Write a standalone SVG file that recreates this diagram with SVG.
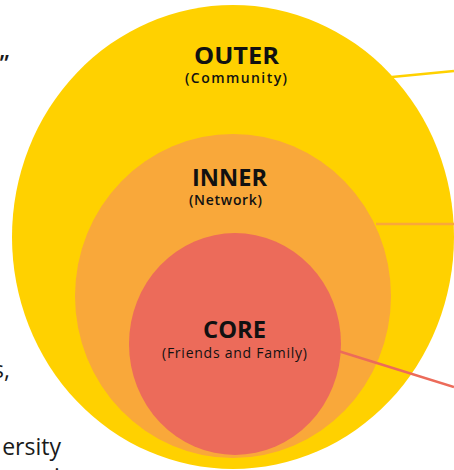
<svg xmlns="http://www.w3.org/2000/svg" width="454" height="470" viewBox="0 0 454 470">
  <style>
    .title { font-family: "Open Sans", "Liberation Sans", sans-serif; font-weight: 700; font-size: 23px; fill: #111; text-anchor: middle; }
    .sub { font-family: "Open Sans", "Liberation Sans", sans-serif; font-weight: 600; font-size: 14px; fill: #111; text-anchor: middle; }
    .sub2 { font-family: "Open Sans", "Liberation Sans", sans-serif; font-weight: 400; font-size: 14px; fill: #111; text-anchor: middle; }
    .frag { font-family: "Open Sans", "Noto Sans", sans-serif; font-size: 23px; fill: #1a1a1a; }
    .conn { fill: none; stroke-width: 2.6; }
  </style>
  <rect width="454" height="470" fill="#ffffff"/>
  <g id="fragments">
    <text class="frag" x="9" y="72" text-anchor="end" font-weight="600">”</text>
    <text class="frag" x="10" y="378" text-anchor="end">s,</text>
    <text class="frag" x="61" y="455" text-anchor="end">ersity</text>
    <text class="frag" x="54" y="485">i</text>
  </g>
  <g id="outer">
    <ellipse cx="233" cy="237" rx="221" ry="232" fill="#FFD100"/>
    <text class="title" x="236.5" y="64" textLength="85" lengthAdjust="spacingAndGlyphs">OUTER</text>
    <text class="sub" x="236" y="83" textLength="102" lengthAdjust="spacing">(Community)</text>
  </g>
  <g id="inner">
    <ellipse cx="233" cy="296" rx="158" ry="162" fill="#F9A83A"/>
    <text class="title" x="229.5" y="186" textLength="75" lengthAdjust="spacingAndGlyphs">INNER</text>
    <text class="sub" x="225.5" y="205" textLength="73" lengthAdjust="spacing">(Network)</text>
  </g>
  <g id="connectors">
    <line class="conn" x1="392" y1="77" x2="454" y2="71" stroke="#FFD100"/>
    <line class="conn" x1="376" y1="224" x2="454" y2="224" stroke="#F9A83A"/>
    <line class="conn" x1="335" y1="350" x2="454" y2="387" stroke="#EC6B5A"/>
  </g>
  <g id="core">
    <ellipse cx="235" cy="344" rx="106" ry="111" fill="#EC6B5A"/>
    <text class="title" x="234.5" y="338" textLength="63" lengthAdjust="spacingAndGlyphs">CORE</text>
    <text class="sub2" x="234.5" y="358" textLength="145" lengthAdjust="spacing">(Friends and Family)</text>
  </g>
</svg>
